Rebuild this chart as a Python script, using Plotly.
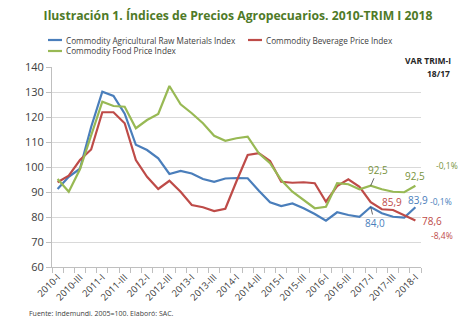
import plotly.graph_objects as go

# Quarterly categories 2010-I .. 2018-I
years = list(range(2010, 2019))
roman = ["I", "II", "III", "IV"]
quarters = [f"{y}-{r}" for y in years for r in roman][:33]

raw_materials = [91.2, 96.1, 99.3, 116.0, 130.1, 128.4, 121.3, 108.9, 106.8, 103.5,
                 97.2, 98.4, 97.4, 95.2, 94.1, 95.4, 95.6, 95.5, 90.5, 85.9,
                 84.4, 85.4, 83.5, 81.2, 78.5, 81.9, 80.8, 80.1, 84.0, 81.5,
                 80.1, 79.8, 83.9]
beverage = [93.9, 96.5, 102.8, 107.0, 121.9, 121.9, 117.5, 102.8, 96.1, 91.2,
            94.5, 90.1, 84.8, 83.9, 82.4, 83.3, 94.3, 104.8, 105.5, 102.4,
            94.1, 93.7, 93.9, 93.5, 86.1, 92.4, 95.1, 92.1, 85.9, 83.1,
            82.8, 80.8, 78.6]
food = [95.2, 90.1, 99.1, 112.6, 126.1, 124.4, 124.1, 115.5, 118.8, 121.2,
        132.4, 125.1, 121.5, 117.5, 112.5, 110.5, 111.5, 112.1, 105.5, 101.5,
        94.8, 90.1, 86.8, 83.5, 84.1, 93.5, 93.1, 91.1, 92.5, 91.1,
        90.1, 89.9, 92.5]

names = ["Commodity Agricultural Raw Materials Index",
         "Commodity Beverage Price Index",
         "Commodity Food Price Index"]
colors = ["#4A7EBB", "#BE4B48", "#98B954"]
series = [raw_materials, beverage, food]

# year-on-year change, first quarter 2018 vs 2017
var_text = ["-0,1%", "-8,4%", "-0,1%"]

idx = list(range(len(quarters)))

W, H = 476, 322
ML, MR, MT, MB = 52, 55, 67, 55
pw, ph = W - ML - MR, H - MT - MB

def px_x(v):
    return (v - ML) / pw

def px_y(v):
    return 1 - (v - MT) / ph

fig = go.Figure()
for name, vals, col in zip(names, series, colors):
    fig.add_trace(go.Scatter(x=idx, y=vals, mode="lines", name=name,
                             line=dict(color=col, width=2.2), showlegend=False))

font_family = "Open Sans, Noto Sans, sans-serif"
tick_col = "#404040"
green_txt, blue_txt, red_txt = "#77933C", "#4A7EBB", "#BE4B48"

def fmt(v):
    return f"{v:.1f}".replace(".", ",")

q17 = quarters.index("2017-I")
q18 = quarters.index("2018-I")

def vfont(c, s=10):
    return dict(color=c, size=s, family=font_family)

annots = []
# value labels for 2017-I
annots.append(dict(x=q17, y=food[q17], text=fmt(food[q17]), showarrow=True,
                   arrowhead=0, arrowwidth=0.8, arrowcolor="#404040",
                   ax=7, ay=-16, font=vfont(green_txt)))
annots.append(dict(x=q17, y=raw_materials[q17], text=fmt(raw_materials[q17]),
                   showarrow=True, arrowhead=0, arrowwidth=0.8,
                   arrowcolor="#404040", ax=4, ay=16, font=vfont(blue_txt)))
annots.append(dict(x=q17, y=beverage[q17], text=fmt(beverage[q17]),
                   showarrow=False, xshift=21, yshift=0, font=vfont(red_txt)))
# value labels for 2018-I
annots.append(dict(x=q18, y=food[q18], text=fmt(food[q18]), showarrow=False,
                   yshift=10, xshift=0, font=vfont(green_txt)))
annots.append(dict(x=q18, y=raw_materials[q18], text=fmt(raw_materials[q18]),
                   showarrow=False, yshift=7, xshift=3, font=vfont(blue_txt)))
annots.append(dict(x=q18, y=beverage[q18], text=fmt(beverage[q18]),
                   showarrow=False, yshift=0, xshift=17, font=vfont(red_txt)))
# percentage changes
annots.append(dict(x=q18, y=food[q18], text=var_text[2], showarrow=False,
                   xshift=32, yshift=20, font=vfont(green_txt, 8.5)))
annots.append(dict(x=q18, y=raw_materials[q18], text=var_text[0], showarrow=False,
                   xshift=26, yshift=6, font=vfont(blue_txt, 8.5)))
annots.append(dict(x=q18, y=beverage[q18], text=var_text[1], showarrow=False,
                   xshift=27, yshift=-15, font=vfont(red_txt, 8.5)))
# header of the change column
annots.append(dict(x=px_x(453), y=px_y(60), xref="paper", yref="paper",
                   text="<b>VAR TRIM-I</b>", showarrow=False, xanchor="right",
                   yanchor="middle", font=dict(color="#262626", size=8.5,
                                               family=font_family)))
annots.append(dict(x=px_x(452), y=px_y(73), xref="paper", yref="paper",
                   text="<b>18/17</b>", showarrow=False, xanchor="right",
                   yanchor="middle", font=dict(color="#262626", size=8.5,
                                               family=font_family)))
# source
annots.append(dict(x=px_x(27), y=px_y(313), xref="paper", yref="paper",
                   text="Fuente: Indemundi. 2005=100. Elaboró: SAC.",
                   showarrow=False, xanchor="left", yanchor="middle",
                   font=dict(color="#404040", size=7, family=font_family)))

# legend: short line key followed by the series name, two columns
legend_slots = [(48, 40), (248, 40), (48, 51)]
shapes = []
for (lx, ly), name, col in zip(legend_slots, names, colors):
    shapes.append(dict(type="line", xref="paper", yref="paper",
                       x0=px_x(lx), x1=px_x(lx + 14), y0=px_y(ly), y1=px_y(ly),
                       line=dict(color=col, width=2.2)))
    annots.append(dict(x=px_x(lx + 16), y=px_y(ly), xref="paper", yref="paper",
                       text=name, showarrow=False, xanchor="left",
                       yanchor="middle",
                       font=dict(color="#404040", size=8.2, family=font_family)))

fig.update_layout(
    width=W, height=H,
    margin=dict(l=ML, r=MR, t=MT, b=MB),
    paper_bgcolor="white", plot_bgcolor="white",
    font=dict(family=font_family, color=tick_col),
    title=dict(text="<b>Ilustración 1. Índices de Precios Agropecuarios. 2010-TRIM I 2018</b>",
               x=0.5, xanchor="center", y=1 - 16 / H, yanchor="middle",
               font=dict(size=12.2, color="#4F7A28", family=font_family)),
    annotations=annots,
    shapes=shapes,
    showlegend=False,
)

fig.update_xaxes(
    range=[-0.5, len(quarters) - 0.5],
    tickmode="array", tickvals=idx[::2], ticktext=quarters[::2],
    tickangle=-45, tickfont=dict(size=9.5, color=tick_col),
    ticks="", showgrid=False, zeroline=False,
    showline=True, linecolor="#BFBFBF", linewidth=1,
    minor=dict(ticks="outside", tick0=-0.5, dtick=1, ticklen=5,
               tickcolor="#BFBFBF", showgrid=False),
)
fig.update_yaxes(
    range=[60, 140], dtick=10, tickfont=dict(size=11, color=tick_col),
    showgrid=True, gridcolor="#D9D9D9", gridwidth=1.2, zeroline=False,
    showline=True, linecolor="#BFBFBF", linewidth=1,
    ticks="outside", ticklen=5, tickcolor="#BFBFBF",
)

fig.write_html("out.html")
